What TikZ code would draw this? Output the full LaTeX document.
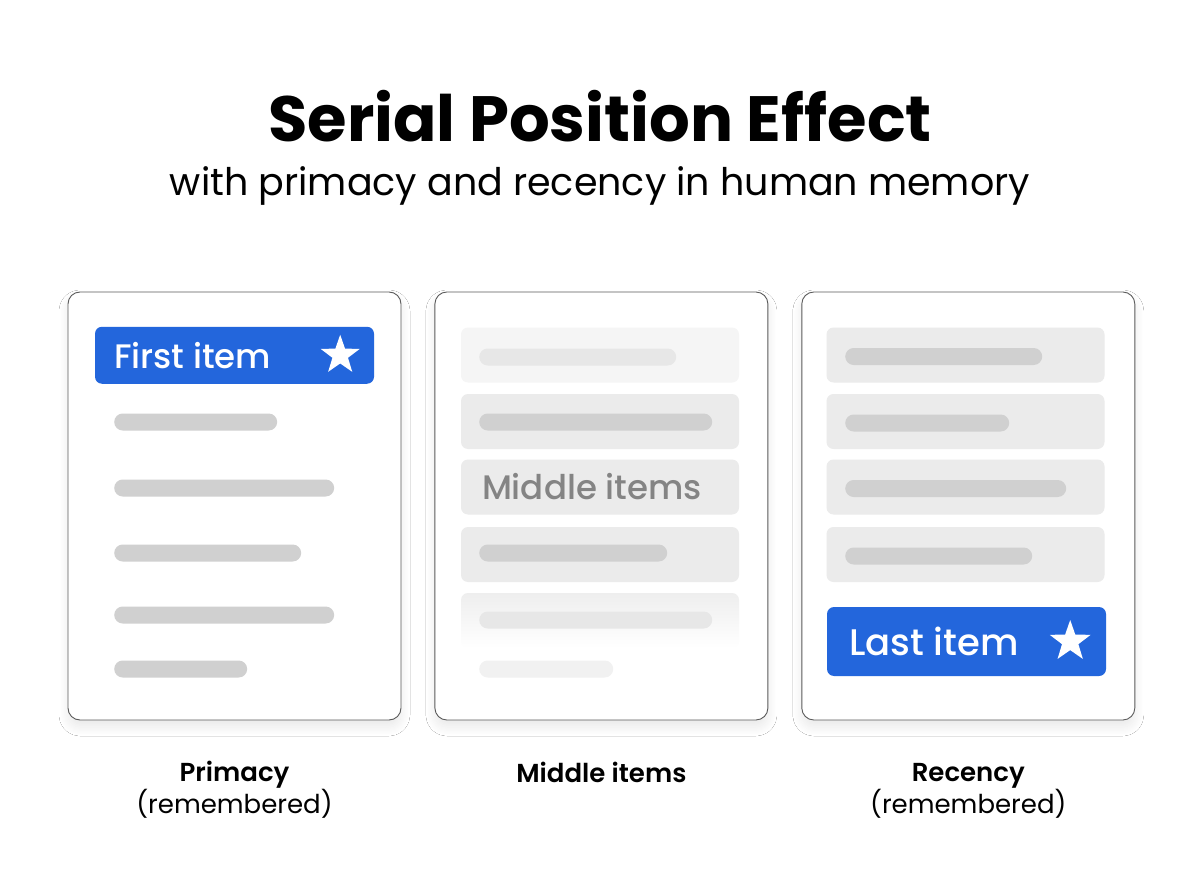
\documentclass[tikz,border=0pt]{standalone}
\usepackage{fontspec}
\setmainfont{Poppins}
\newfontfamily\popmed{Poppins Medium}
\newfontfamily\popsemi{Poppins SemiBold}
\usetikzlibrary{positioning,shapes.geometric,shadows.blur}
\definecolor{accent}{HTML}{2366DC}
\definecolor{frame}{HTML}{5A5A5A}
\definecolor{rowfill}{HTML}{EBEBEB}
\definecolor{barfill}{HTML}{D0D0D0}
\definecolor{faint}{HTML}{F5F5F5}
\definecolor{faintbar}{HTML}{E7E7E7}
\definecolor{midtext}{HTML}{848484}

\begin{document}
\begin{tikzpicture}[x=1pt,y=-1pt,
 node distance=33pt,
 panel/.style={draw=frame,line width=0.9pt,rounded corners=12pt,fill=white,minimum width=333pt,minimum height=428pt,inner sep=0pt,
   blur shadow={shadow xshift=0pt,shadow yshift=-7pt,shadow blur radius=9pt,shadow blur steps=20,shadow opacity=9}},
 row/.style={fill=rowfill,rounded corners=7pt,minimum width=278pt,minimum height=55pt,inner sep=0pt},
 hit/.style={fill=accent,rounded corners=7pt,minimum width=279pt,inner sep=0pt},
 hittext/.style={text=white,anchor=west,inner sep=0pt},
 bar/.style={fill=barfill,rounded corners=8.5pt,minimum height=17pt,inner sep=0pt,anchor=west},
 starmark/.style={star,star points=5,star point ratio=2.5,fill=white,minimum size=41pt,inner sep=0pt},
 caption/.style={font=\popsemi\fontsize{26}{30}\selectfont,align=center,inner sep=0pt,anchor=base}
]
\fill[white] (0,0) rectangle (1200,896);
\useasboundingbox (0,0) rectangle (1200,896);

% heading
\node[anchor=base,font=\bfseries\fontsize{64}{64}\selectfont] (title) at (600,142) {Serial Position Effect};
\node[anchor=base,font=\fontsize{38}{38}\selectfont] (subtitle) at (600,196) {with primacy and recency in human memory};

% three lists
\node[panel] (p1) at (234.5,506) {};
\node[panel,right=of p1] (p2) {};
\node[panel,right=of p2] (p3) {};

% primacy
\node[hit,minimum height=57pt,below=35pt of p1.north] (first) {};
\node[hittext,font=\popmed\fontsize{34}{34}\selectfont] (firsttext) at ([xshift=19pt]first.west) {First item};
\node[starmark] (star1) at ([xshift=-34pt]first.east) {};
\foreach \yy/\len [count=\i] in {422/163,488/220,553/187,615/220,669/133}
  \node[bar,minimum width=\len] (pa\i) at (114,\yy) {};

% middle
\node[row,fill=faint] (m1) at (600,355) {};
\node[row] (m2) at (600,421.5) {};
\node[row] (m3) at (600,487) {};
\node[row] (m4) at (600,554.5) {};
\node[row,fill=none,top color=rowfill!85,bottom color=white] (m5) at (600,620.5) {};
\node[font=\popmed\fontsize{34}{34}\selectfont,text=midtext,anchor=west,inner sep=0pt] (midtext) at ([xshift=21pt]m3.west) {Middle items};
\node[bar,fill=faintbar,minimum width=197] (pb1) at (479,357) {};
\node[bar,minimum width=233] (pb2) at (479,422) {};
\node[bar,minimum width=188] (pb4) at (479,553) {};
\node[bar,fill=faintbar,minimum width=233] (pb5) at (479,620) {};
\node[bar,fill=faint!70!faintbar,minimum width=134] (pb6) at (479,669) {};

% recency
\foreach \yy/\len [count=\i] in {355/197,421.5/164,487/221,554.5/187}{
  \node[row] (r\i) at (965.5,\yy) {};
  \node[bar,minimum width=\len] (pc\i) at (845,\yy+1.5) {};
}
\node[hit,minimum height=69pt] (last) at (966.5,641.5) {};
\node[hittext,font=\popmed\fontsize{37}{37}\selectfont] (lasttext) at ([xshift=22pt]last.west) {Last item};
\node[starmark,minimum size=43pt] (star2) at ([xshift=-36pt]last.east) {};

% captions (base = last line)
\node[caption] (cap1) at ([yshift=-93pt]p1.south) {Primacy\\{\rmfamily (remembered)}};
\node[caption] (cap2) at ([yshift=-62pt]p2.south) {Middle items};
\node[caption] (cap3) at ([yshift=-93pt]p3.south) {Recency\\{\rmfamily (remembered)}};
\end{tikzpicture}
\end{document}
